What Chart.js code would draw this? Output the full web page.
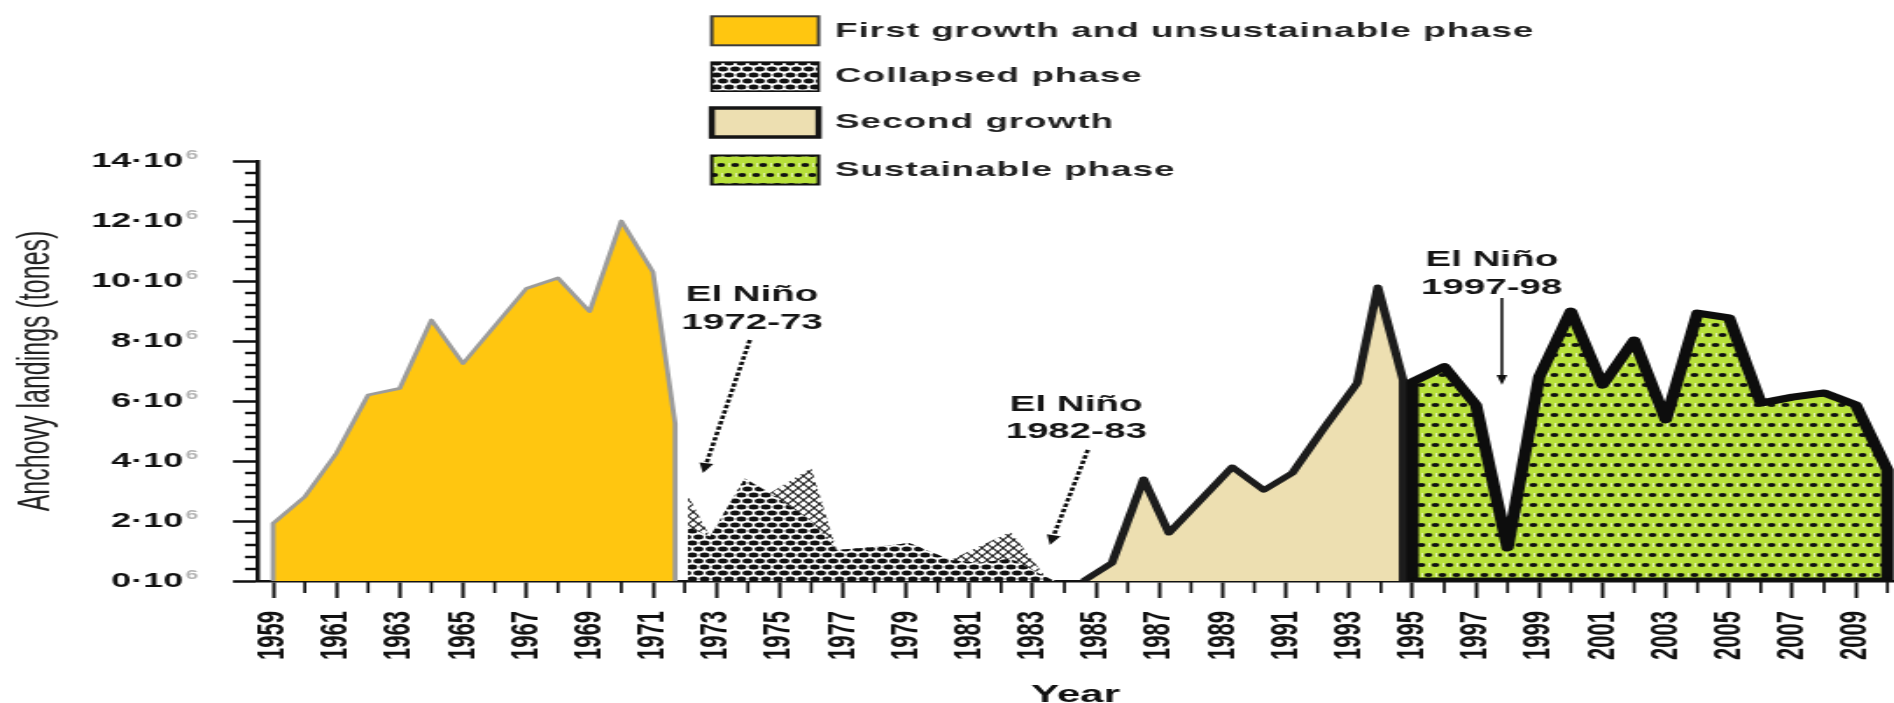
<!DOCTYPE html>
<html>
<head>
<meta charset="utf-8">
<title>Anchovy landings by phase</title>
<script src="https://cdn.jsdelivr.net/npm/chart.js@4.4.1/dist/chart.umd.min.js"></script>
<style>
  html, body { margin: 0; padding: 0; background: #fff; overflow: hidden; }
  /* the figure is laid out on a narrow canvas and widened to the page */
  #frame { width: 1082px; height: 703px; transform: scaleX(1.7505); transform-origin: 0 0; }
</style>
</head>
<body>
<div id="frame"><canvas id="chart" width="1082" height="703"></canvas></div>
<script>
// Annual anchovy landings (millions of tonnes), one series per phase of the fishery.
const firstYears  = [1959, 1960, 1961, 1962, 1963, 1964, 1965, 1966, 1967, 1968, 1969, 1970, 1971, 1971.7];
const firstValues = [1.92, 2.81, 4.26, 6.2, 6.42, 8.7, 7.25, 8.5, 9.75, 10.1, 8.98, 12.0, 10.3, 5.25];

const collapsedYears      = [1972.1, 1972.8, 1973.9, 1974.7, 1976.0, 1976.8, 1978.0, 1979.1, 1980.4, 1981.3, 1982.3, 1983.4, 1983.7, 1984.6];
const collapsedValues     = [2.87, 1.48, 3.42, 2.93, 3.77, 1.03, 1.13, 1.27, 0.7, 1.15, 1.64, 0.14, 0, 0];
const collapsedCoreValues = [1.81, 1.48, 3.42, 2.93, 2.0, 1.03, 1.13, 1.27, 0.7, 0.6, 0.75, 0.14, 0, 0];

const secondYears  = [1984.6, 1985.5, 1986.5, 1987.3, 1989.3, 1990.3, 1991.2, 1992.2, 1993.25, 1993.9, 1994.7];
const secondValues = [0, 0.6, 3.4, 1.6, 3.8, 3.03, 3.6, 5.1, 6.6, 9.8, 6.7];

const sustainableYears  = [1995, 1996, 1997, 1998, 1999, 2000, 2001, 2002, 2003, 2004, 2005, 2006, 2007, 2008, 2009, 2010];
const sustainableValues = [6.64, 7.14, 5.87, 1.1, 6.81, 9.0, 6.53, 8.03, 5.37, 8.93, 8.77, 5.93, 6.13, 6.27, 5.87, 3.7];

const phaseNames  = ['First growth and unsustainable phase', 'Collapsed phase', 'Second growth', 'Sustainable phase'];
const ninoPeriods = ['1972-73', '1982-83', '1997-98'];
const yearLabels  = [1959, 1961, 1963, 1965, 1967, 1969, 1971, 1973, 1975, 1977, 1979, 1981, 1983, 1985,
                     1987, 1989, 1991, 1993, 1995, 1997, 1999, 2001, 2003, 2005, 2007, 2009];
const minorYears  = [1960, 1962, 1964, 1966, 1968, 1970, 1972, 1974, 1976, 1978, 1980, 1982, 1984, 1986,
                     1988, 1990, 1992, 1994, 1996, 1998, 2000, 2002, 2004, 2006, 2008, 2010];
const landingTicks = [0, 2, 4, 6, 8, 10, 12, 14];

// ---- styling -------------------------------------------------------------
const FONT = '"Liberation Sans", Arial, sans-serif';
Chart.defaults.font.family = FONT;
Chart.defaults.color = '#111';

const YELLOW = '#FFC610';
const TAN = '#EDDFB1';
const GREEN = '#B7E03A';
const yMinorPerMajor = 5;

const canvas = document.getElementById('chart');
const ctx0 = canvas.getContext('2d');

function makePattern(w, h, paint) {
  const c = document.createElement('canvas');
  c.width = w; c.height = h;
  const g = c.getContext('2d');
  paint(g, w, h);
  return ctx0.createPattern(c, 'repeat');
}
function blob(g, x, y, rx, ry) {
  g.beginPath(); g.ellipse(x, y, rx, ry, 0, 0, Math.PI * 2); g.fill();
}
// chequered fill of the collapsed phase
const chequer = makePattern(7, 12, (g, w, h) => {
  g.fillStyle = '#fff'; g.fillRect(0, 0, w, h);
  g.fillStyle = '#111';
  blob(g, 3.5, 3, 2.9, 2.5); blob(g, 0, 9, 2.9, 2.5); blob(g, 7, 9, 2.9, 2.5);
});
// lighter cross-hatching on the upper part of the collapsed phase
const hatch = makePattern(6, 8, (g, w, h) => {
  g.fillStyle = '#fff'; g.fillRect(0, 0, w, h);
  g.strokeStyle = '#222'; g.lineWidth = 1.1;
  g.beginPath(); g.moveTo(0, 0); g.lineTo(w, h); g.moveTo(w, 0); g.lineTo(0, h); g.stroke();
});
// dotted green fill of the sustainable phase
const dotted = makePattern(8, 20, (g, w, h) => {
  g.fillStyle = GREEN; g.fillRect(0, 0, w, h);
  g.fillStyle = 'rgba(255,255,255,0.75)';
  g.fillRect(0, 3, 0.8, 4); g.fillRect(4, 13, 0.8, 4);
  g.fillStyle = '#111';
  blob(g, 4, 5, 2.3, 2.1); blob(g, 0, 15, 2.3, 2.1); blob(g, 8, 15, 2.3, 2.1);
});

// area outline: drop to the baseline at both ends
function area(xs, ys) {
  const pts = xs.map((x, i) => ({ x, y: ys[i] }));
  return [{ x: xs[0], y: 0 }, ...pts, { x: xs[xs.length - 1], y: 0 }];
}

// callout placement in axis units (year, landings)
const calloutPlacement = [
  { x: 1974.13, y: 9.53, from: [1974.06, 8.03], to: [1972.58, 3.6], dashed: true },
  { x: 1984.37, y: 5.87, from: [1984.74, 4.37], to: [1983.54, 1.2], dashed: true },
  { x: 1997.50, y: 10.7, from: [1997.82, 9.43], to: [1997.82, 6.53], dashed: false }
];
const legendLayout = { left: 406.6, width: 61, height: 29, rows: [30.8, 76.7, 122.5, 170], textX: 477 };
const legendSwatches = [
  { fill: YELLOW, stroke: '#3c3c3c', width: 2 },
  { fill: chequer, stroke: '#111', width: 1.6 },
  { fill: TAN, stroke: '#151515', width: 3.5 },
  { fill: dotted, stroke: '#111', width: 2 }
];

function drawArrow(ctx, x1, y1, x2, y2, dashed) {
  ctx.save();
  ctx.strokeStyle = '#111'; ctx.fillStyle = '#111';
  ctx.lineWidth = dashed ? 2.6 : 1.6;
  const ang = Math.atan2(y2 - y1, x2 - x1);
  const head = 10, half = dashed ? 4 : 3;
  const bx = x2 - Math.cos(ang) * head, by = y2 - Math.sin(ang) * head;
  if (dashed) ctx.setLineDash([3.5, 2]);
  ctx.beginPath(); ctx.moveTo(x1, y1); ctx.lineTo(bx, by); ctx.stroke();
  ctx.setLineDash([]);
  ctx.beginPath();
  ctx.moveTo(x2, y2);
  ctx.lineTo(bx + Math.cos(ang + Math.PI / 2) * half, by + Math.sin(ang + Math.PI / 2) * half);
  ctx.lineTo(bx - Math.cos(ang + Math.PI / 2) * half, by - Math.sin(ang + Math.PI / 2) * half);
  ctx.closePath(); ctx.fill();
  ctx.restore();
}

const figureExtras = {
  id: 'figureExtras',
  afterDraw(chart) {
    const { ctx, scales: { x, y } } = chart;
    ctx.save();

    // minor tick marks
    ctx.strokeStyle = '#111';
    ctx.lineWidth = 2.5;
    const step = 2 / yMinorPerMajor;
    for (let i = 1; i * step < 14 - 1e-9; i++) {
      if (i % yMinorPerMajor === 0) continue;
      const py = y.getPixelForValue(i * step);
      ctx.beginPath(); ctx.moveTo(y.right, py); ctx.lineTo(y.right - 6.9, py); ctx.stroke();
    }
    ctx.lineWidth = 1.7;
    minorYears.forEach(yr => {
      const px = x.getPixelForValue(yr);
      ctx.beginPath(); ctx.moveTo(px, x.top); ctx.lineTo(px, x.top + 12); ctx.stroke();
    });

    // exponent of the landing tick labels
    ctx.font = 'bold 13px ' + FONT;
    ctx.fillStyle = '#b4b4b4';
    ctx.textAlign = 'left'; ctx.textBaseline = 'middle';
    const labelRight = y.right - y.options.grid.tickLength - y.options.ticks.padding;
    y.ticks.forEach(t => ctx.fillText('6', labelRight + 1.5, y.getPixelForValue(t.value) - 6));

    // El Niño callouts
    ctx.fillStyle = '#151515';
    ctx.font = 'bold 22px ' + FONT;
    ctx.textAlign = 'center';
    calloutPlacement.forEach((c, i) => {
      const cx = x.getPixelForValue(c.x), cy = y.getPixelForValue(c.y);
      ctx.fillText('El Niño', cx, cy);
      ctx.fillText(ninoPeriods[i], cx, cy + 27.5);
      drawArrow(ctx,
        x.getPixelForValue(c.from[0]), y.getPixelForValue(c.from[1]),
        x.getPixelForValue(c.to[0]), y.getPixelForValue(c.to[1]), c.dashed);
    });

    // legend
    const L = legendLayout;
    ctx.textAlign = 'left';
    ctx.font = 'bold 21px ' + FONT;
    if ('letterSpacing' in ctx) ctx.letterSpacing = '0.6px';
    phaseNames.forEach((name, i) => {
      const s = legendSwatches[i];
      const top = L.rows[i] - L.height / 2;
      ctx.fillStyle = s.fill;
      ctx.fillRect(L.left, top, L.width, L.height);
      ctx.strokeStyle = s.stroke; ctx.lineWidth = s.width;
      ctx.strokeRect(L.left, top, L.width, L.height);
      ctx.fillStyle = '#222';
      ctx.fillText(name, L.textX, L.rows[i]);
    });
    ctx.restore();
  }
};

new Chart(canvas, {
  type: 'line',
  data: {
    datasets: [
      { label: phaseNames[3] + ' base', data: [{ x: sustainableYears[0], y: 0 }, { x: sustainableYears[sustainableYears.length - 1], y: 0 }],
        borderColor: '#0d0d0d', borderWidth: 7, fill: false, order: 1 },
      { label: phaseNames[3], data: area(sustainableYears, sustainableValues),
        backgroundColor: dotted, borderColor: '#0d0d0d', borderWidth: 7, fill: 'origin', order: 2 },
      { label: phaseNames[2], data: area(secondYears, secondValues),
        backgroundColor: TAN, borderColor: '#1c1c1c', borderWidth: 5, fill: 'origin', order: 3 },
      { label: phaseNames[1], data: area(collapsedYears, collapsedCoreValues),
        backgroundColor: chequer, borderWidth: 0, fill: 'origin', order: 4 },
      { label: phaseNames[1] + ' upper', data: area(collapsedYears, collapsedValues),
        backgroundColor: hatch, borderWidth: 0, fill: 'origin', order: 5 },
      { label: phaseNames[0], data: area(firstYears, firstValues),
        backgroundColor: YELLOW, borderColor: '#9c9c9c', borderWidth: 2.8, fill: 'origin', order: 6 }
    ]
  },
  options: {
    responsive: false,
    animation: false,
    devicePixelRatio: 1,
    layout: { padding: { top: 161, left: 0, right: 0, bottom: 0 } },
    elements: {
      point: { radius: 0, hoverRadius: 0 },
      line: { tension: 0, borderJoinStyle: 'round' }
    },
    plugins: { legend: { display: false }, tooltip: { enabled: false } },
    scales: {
      x: {
        type: 'linear',
        min: 1958.49,
        max: 2010.21,
        afterBuildTicks: s => { s.ticks = yearLabels.map(v => ({ value: v })); },
        afterFit: s => { s.height = 122; s.paddingLeft = 0; s.paddingRight = 0; },
        grid: { drawOnChartArea: false, drawTicks: true, tickLength: 17, tickWidth: 2, tickColor: '#111' },
        border: { display: true, color: '#111', width: 2.5 },
        ticks: {
          autoSkip: false, minRotation: 90, maxRotation: 90, padding: 13, color: '#111',
          font: { size: 22, weight: 'bold' },
          callback: v => String(v)
        },
        title: {
          display: true, text: 'Year', color: '#111',
          font: { size: 24, weight: 'bold', lineHeight: 0.6 }, padding: 0
        }
      },
      y: {
        min: 0,
        max: 14,
        afterBuildTicks: s => { s.ticks = landingTicks.map(v => ({ value: v })); },
        afterFit: s => { s.width = 146.8; s.paddingTop = 0; s.paddingBottom = 0; },
        grid: { drawOnChartArea: false, drawTicks: true, tickLength: 13.7, tickWidth: 2.5, tickColor: '#111' },
        border: { display: true, color: '#111', width: 2.5 },
        ticks: {
          padding: 28.5, color: '#111',
          font: { size: 20.5, weight: 'bold' },
          callback: v => v + '·10'
        },
        title: {
          display: true, text: 'Anchovy landings (tones)', color: '#222',
          font: { size: 25 }, padding: { top: 6, bottom: 0 }
        }
      }
    }
  },
  plugins: [figureExtras]
});
</script>
</body>
</html>
